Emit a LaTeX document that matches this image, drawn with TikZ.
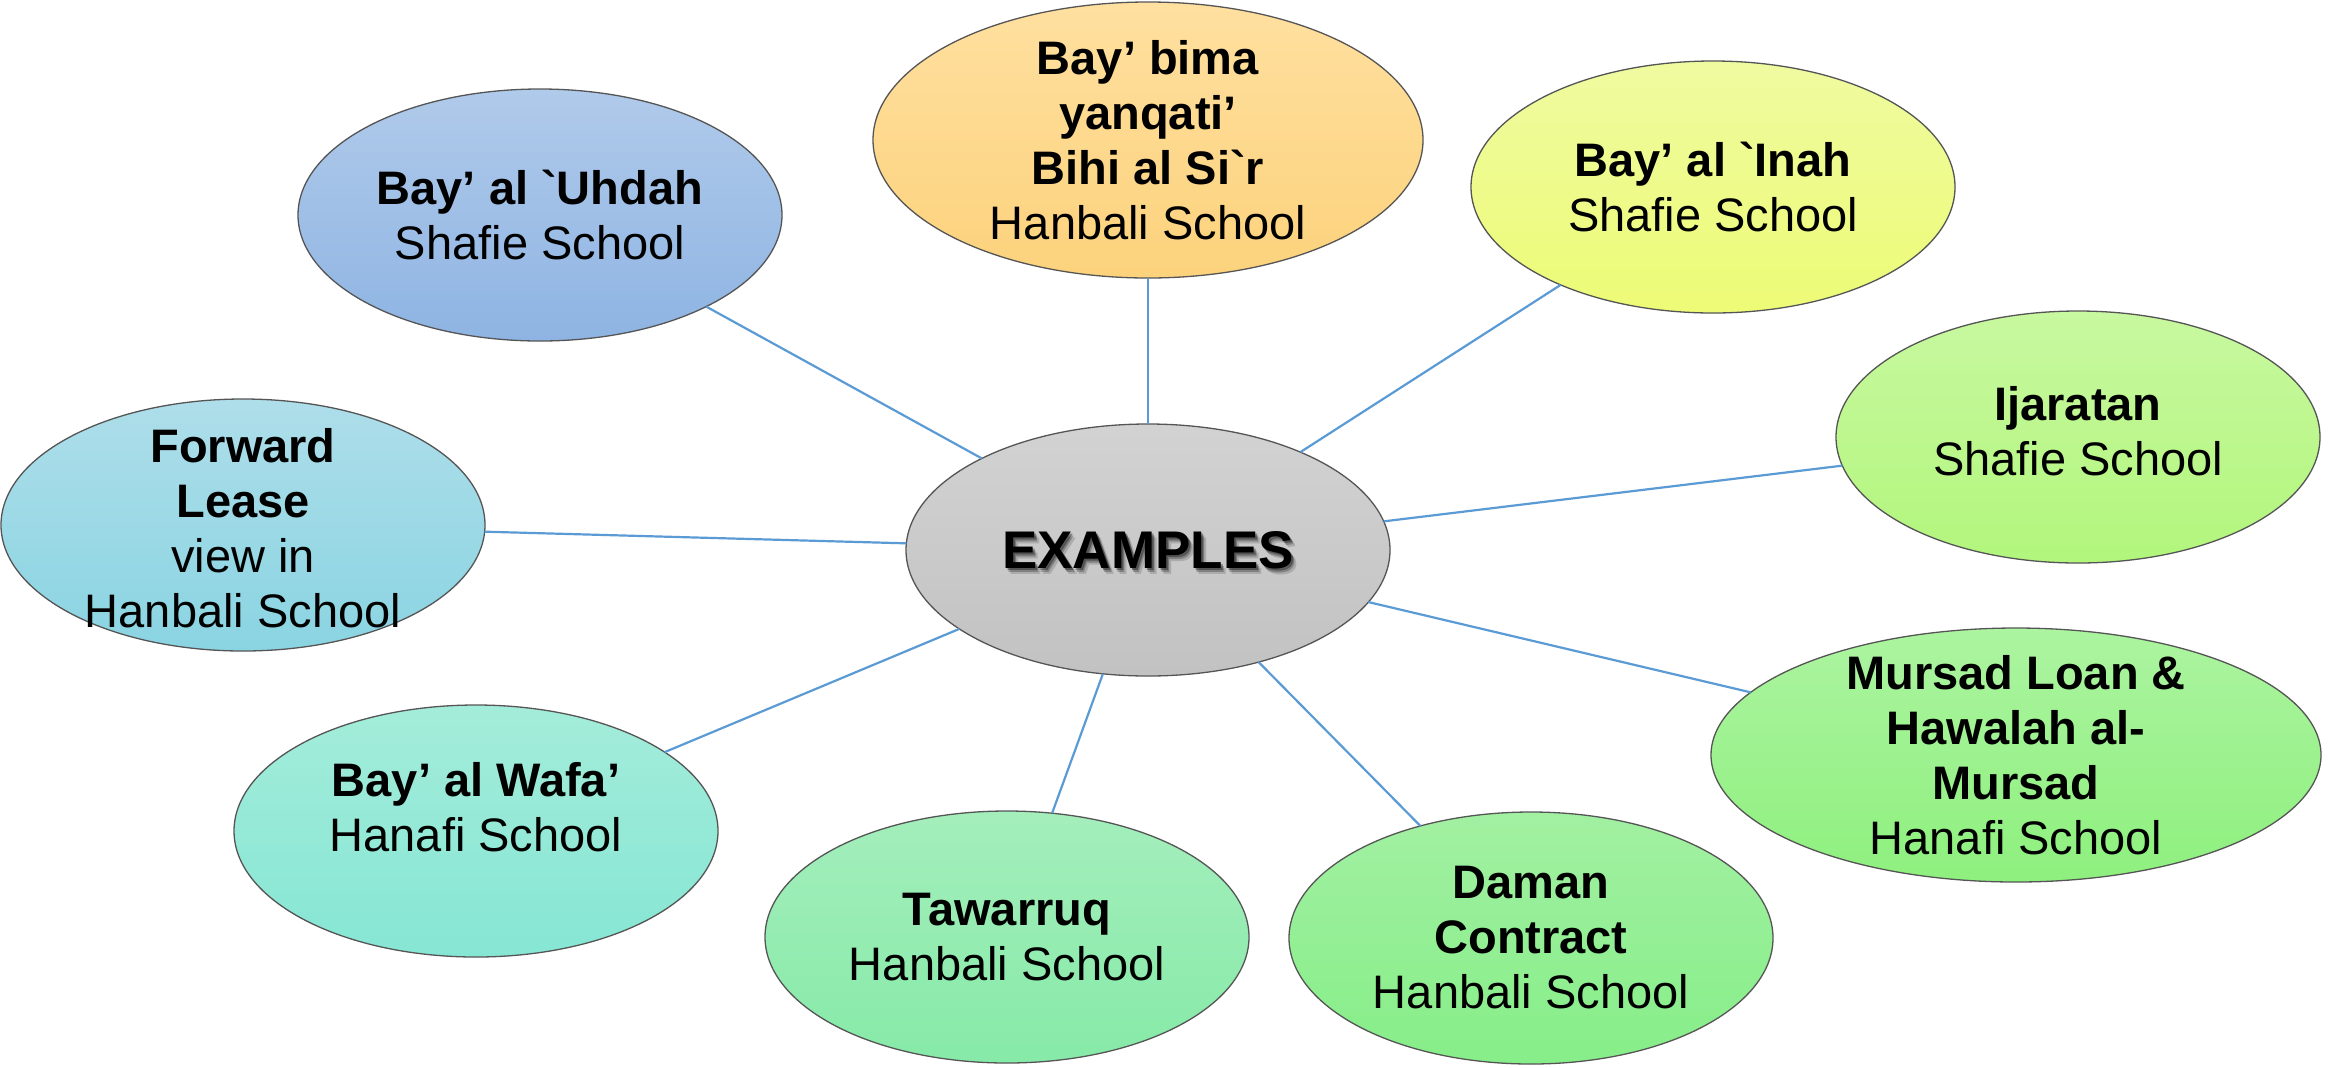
\documentclass[tikz,border=0pt]{standalone}
\usepackage{fontspec}
\newfontfamily\af{Liberation Sans}
\usetikzlibrary{shapes.geometric}
\definecolor{spokeblue}{HTML}{5B9BD5}
\definecolor{rimgray}{HTML}{555555}
\begin{document}
\begin{tikzpicture}[x=0.5pt,y=-0.5pt,
  bubble/.style={ellipse, draw=rimgray, line width=0.65pt, inner sep=0pt, outer sep=0pt,
                 minimum width=242pt, minimum height=126pt},
  btext/.style={align=center, inner sep=0pt, font=\af\fontsize{23.5pt}{27.5pt}\selectfont},
  hubtext/.style={inner sep=0pt, font=\af\bfseries\fontsize{26.5pt}{30pt}\selectfont},
  spoke/.style={draw=spokeblue, line width=1.1pt}]

% canvas
\fill[white] (0,0) rectangle (2328,1067);
\useasboundingbox (0,0) rectangle (2328,1067);

% hub
\node[bubble, top color=gray!35, bottom color=gray!48] (hub) at (1148,550) {};

% surrounding bubbles
\node[bubble, top color={rgb,255:red,176;green,202;blue,234}, bottom color={rgb,255:red,142;green,180;blue,227}] (uhdah) at (540,215) {};
\node[bubble, minimum width=275pt, minimum height=138pt,
      top color={rgb,255:red,255;green,224;blue,160}, bottom color={rgb,255:red,252;green,210;blue,124}] (bima) at (1148,140) {};
\node[bubble, top color={rgb,255:red,239;green,251;blue,160}, bottom color={rgb,255:red,237;green,251;blue,118}] (inah) at (1713,187) {};
\node[bubble, top color={rgb,255:red,200;green,248;blue,160}, bottom color={rgb,255:red,178;green,246;blue,124}] (ijara) at (2078,437) {};
\node[bubble, minimum width=305pt, minimum height=127pt,
      top color={rgb,255:red,172;green,244;blue,160}, bottom color={rgb,255:red,142;green,240;blue,126}] (mursad) at (2016,755) {};
\node[bubble, top color={rgb,255:red,162;green,240;blue,162}, bottom color={rgb,255:red,134;green,238;blue,136}] (daman) at (1531,938) {};
\node[bubble, top color={rgb,255:red,164;green,238;blue,188}, bottom color={rgb,255:red,134;green,234;blue,168}] (tawarruq) at (1007,937) {};
\node[bubble, top color={rgb,255:red,164;green,236;blue,218}, bottom color={rgb,255:red,134;green,230;blue,212}] (wafa) at (476,831) {};
\node[bubble, top color={rgb,255:red,174;green,222;blue,234}, bottom color={rgb,255:red,138;green,212;blue,226}] (fwd) at (243,525) {};

% spokes from the hub
\draw[spoke] (hub) -- (uhdah);
\draw[spoke] (hub) -- (bima);
\draw[spoke] (hub) -- (inah);
\draw[spoke] (hub) -- (ijara);
\draw[spoke] (hub) -- (mursad);
\draw[spoke] (hub) -- (daman);
\draw[spoke] (hub) -- (tawarruq);
\draw[spoke] (hub) -- (wafa);
\draw[spoke] (hub) -- (fwd);

% hub title with a soft shadow
\node[hubtext, text=black, opacity=0.15] (hubsh3) at ([shift={(5,6)}]hub.center) {EXAMPLES};
\node[hubtext, text=black, opacity=0.25] (hubsh2) at ([shift={(3,4)}]hub.center) {EXAMPLES};
\node[hubtext, text=black, opacity=0.35] (hubsh1) at ([shift={(2,2)}]hub.center) {EXAMPLES};
\node[hubtext] (hubt) at (hub.center) {EXAMPLES};

% bubble texts
\node[btext] (uhdaht) at (uhdah.center) {\textbf{Bay’ al `Uhdah}\\Shafie School};
\node[btext] (bimat) at (bima.center) {\textbf{Bay’ bima}\\\textbf{yanqati’}\\\textbf{Bihi al Si`r}\\Hanbali School};
\node[btext] (inaht) at (inah.center) {\textbf{Bay’ al `Inah}\\Shafie School};
\node[btext] (ijarat) at ([yshift=3pt]ijara.center) {\textbf{Ijaratan}\\Shafie School};
\node[btext] (mursadt) at (mursad.center) {\textbf{Mursad Loan \&}\\\textbf{Hawalah al-}\\\textbf{Mursad}\\Hanafi School};
\node[btext] (damant) at (daman.center) {\textbf{Daman}\\\textbf{Contract}\\Hanbali School};
\node[btext] (tawarruqt) at (tawarruq.center) {\textbf{Tawarruq}\\Hanbali School};
\node[btext] (wafat) at ([yshift=12pt]wafa.center) {\textbf{Bay’ al Wafa’}\\Hanafi School};
\node[btext] (fwdt) at ([yshift=-1.5pt]fwd.center) {\textbf{Forward}\\\textbf{Lease}\\view in\\Hanbali School};
\end{tikzpicture}
\end{document}
